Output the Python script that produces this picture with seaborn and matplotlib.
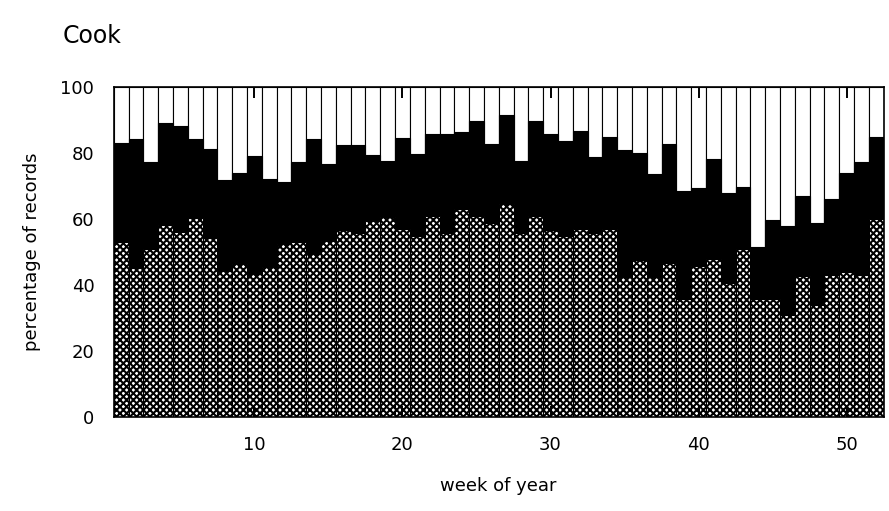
import numpy as np
import pandas as pd
import matplotlib
matplotlib.use("Agg")
import matplotlib.pyplot as plt
import seaborn as sns

# week of year, 1..52
weeks = list(range(1, 53))

# top of the hatched (bottom) band, percent
hatched_top = [53.0, 45.0, 51.0, 58.3, 56.1, 60.4, 54.3, 44.1, 46.2, 43.2,
               45.3, 52.5, 53.1, 49.5, 53.3, 56.6, 55.6, 59.4, 60.6, 56.8,
               54.7, 60.8, 55.6, 63.1, 60.8, 58.8, 64.6, 55.8, 60.9, 56.6,
               54.7, 56.8, 55.8, 56.8, 42.4, 47.7, 42.4, 46.7, 35.6, 45.7,
               47.8, 40.7, 51.0, 35.6, 35.6, 30.8, 42.7, 34.0, 42.9, 43.9,
               42.9, 60.1]

# top of the black (middle) band, percent
black_top = [83.0, 84.1, 77.2, 89.1, 88.1, 84.1, 81.3, 71.9, 73.9, 79.2,
             72.1, 71.1, 77.2, 84.3, 76.5, 82.3, 82.3, 79.3, 77.5, 84.6,
             79.6, 85.6, 85.6, 86.4, 89.6, 82.6, 91.6, 77.6, 89.7, 85.7,
             83.5, 86.7, 78.8, 84.8, 80.8, 80.0, 73.7, 82.8, 68.4, 69.4,
             78.0, 67.7, 69.7, 51.5, 59.6, 57.8, 66.9, 58.8, 65.9, 74.0,
             77.3, 84.8]

total = [100] * len(weeks)

df = pd.DataFrame({"week": weeks, "hatched": hatched_top,
                   "black": black_top, "total": total})

sns.set_style("white")
plt.rcParams["font.family"] = ["DejaVu Sans"]
plt.rcParams["text.color"] = "black"
plt.rcParams["axes.labelcolor"] = "black"
plt.rcParams["xtick.color"] = "black"
plt.rcParams["ytick.color"] = "black"
plt.rcParams["hatch.linewidth"] = 1.5
plt.rcParams["hatch.color"] = "black"

fig = plt.figure(figsize=(8.89, 5.11), dpi=100)
ax = fig.add_axes([0.128, 0.184, 0.866, 0.646])

# white band (full height), then black, then hatched on top of it
sns.barplot(data=df, x="week", y="total", native_scale=True, width=1.0,
            color="white", edgecolor="black", linewidth=0.8, saturation=1,
            ax=ax)
sns.barplot(data=df, x="week", y="black", native_scale=True, width=1.0,
            color="black", edgecolor="black", linewidth=0.8, saturation=1,
            ax=ax)
sns.barplot(data=df, x="week", y="hatched", native_scale=True, width=1.0,
            color="white", edgecolor="black", linewidth=0.8, saturation=1,
            ax=ax)
for bar in ax.containers[-1]:
    bar.set_hatch("xxxxx")

ax.set_xlim(0.5, 52.5)
ax.set_ylim(0, 100)
ax.set_xticks([10, 20, 30, 40, 50])
ax.set_yticks([0, 20, 40, 60, 80, 100])
ax.tick_params(axis="x", direction="in", length=8, width=1.4, top=True,
               bottom=True, labelsize=13, pad=14)
ax.tick_params(axis="y", length=0, labelsize=13, pad=14)
ax.set_axisbelow(False)
for s in ax.spines.values():
    s.set_linewidth(1.2)
    s.set_color("black")

ax.set_xlabel("week of year", fontsize=13, labelpad=16)
ax.set_ylabel("percentage of records", fontsize=13, labelpad=14)
fig.text(0.07, 0.93, "Cook", fontsize=17, ha="left", va="center")

fig.savefig("out.png", dpi=100)
